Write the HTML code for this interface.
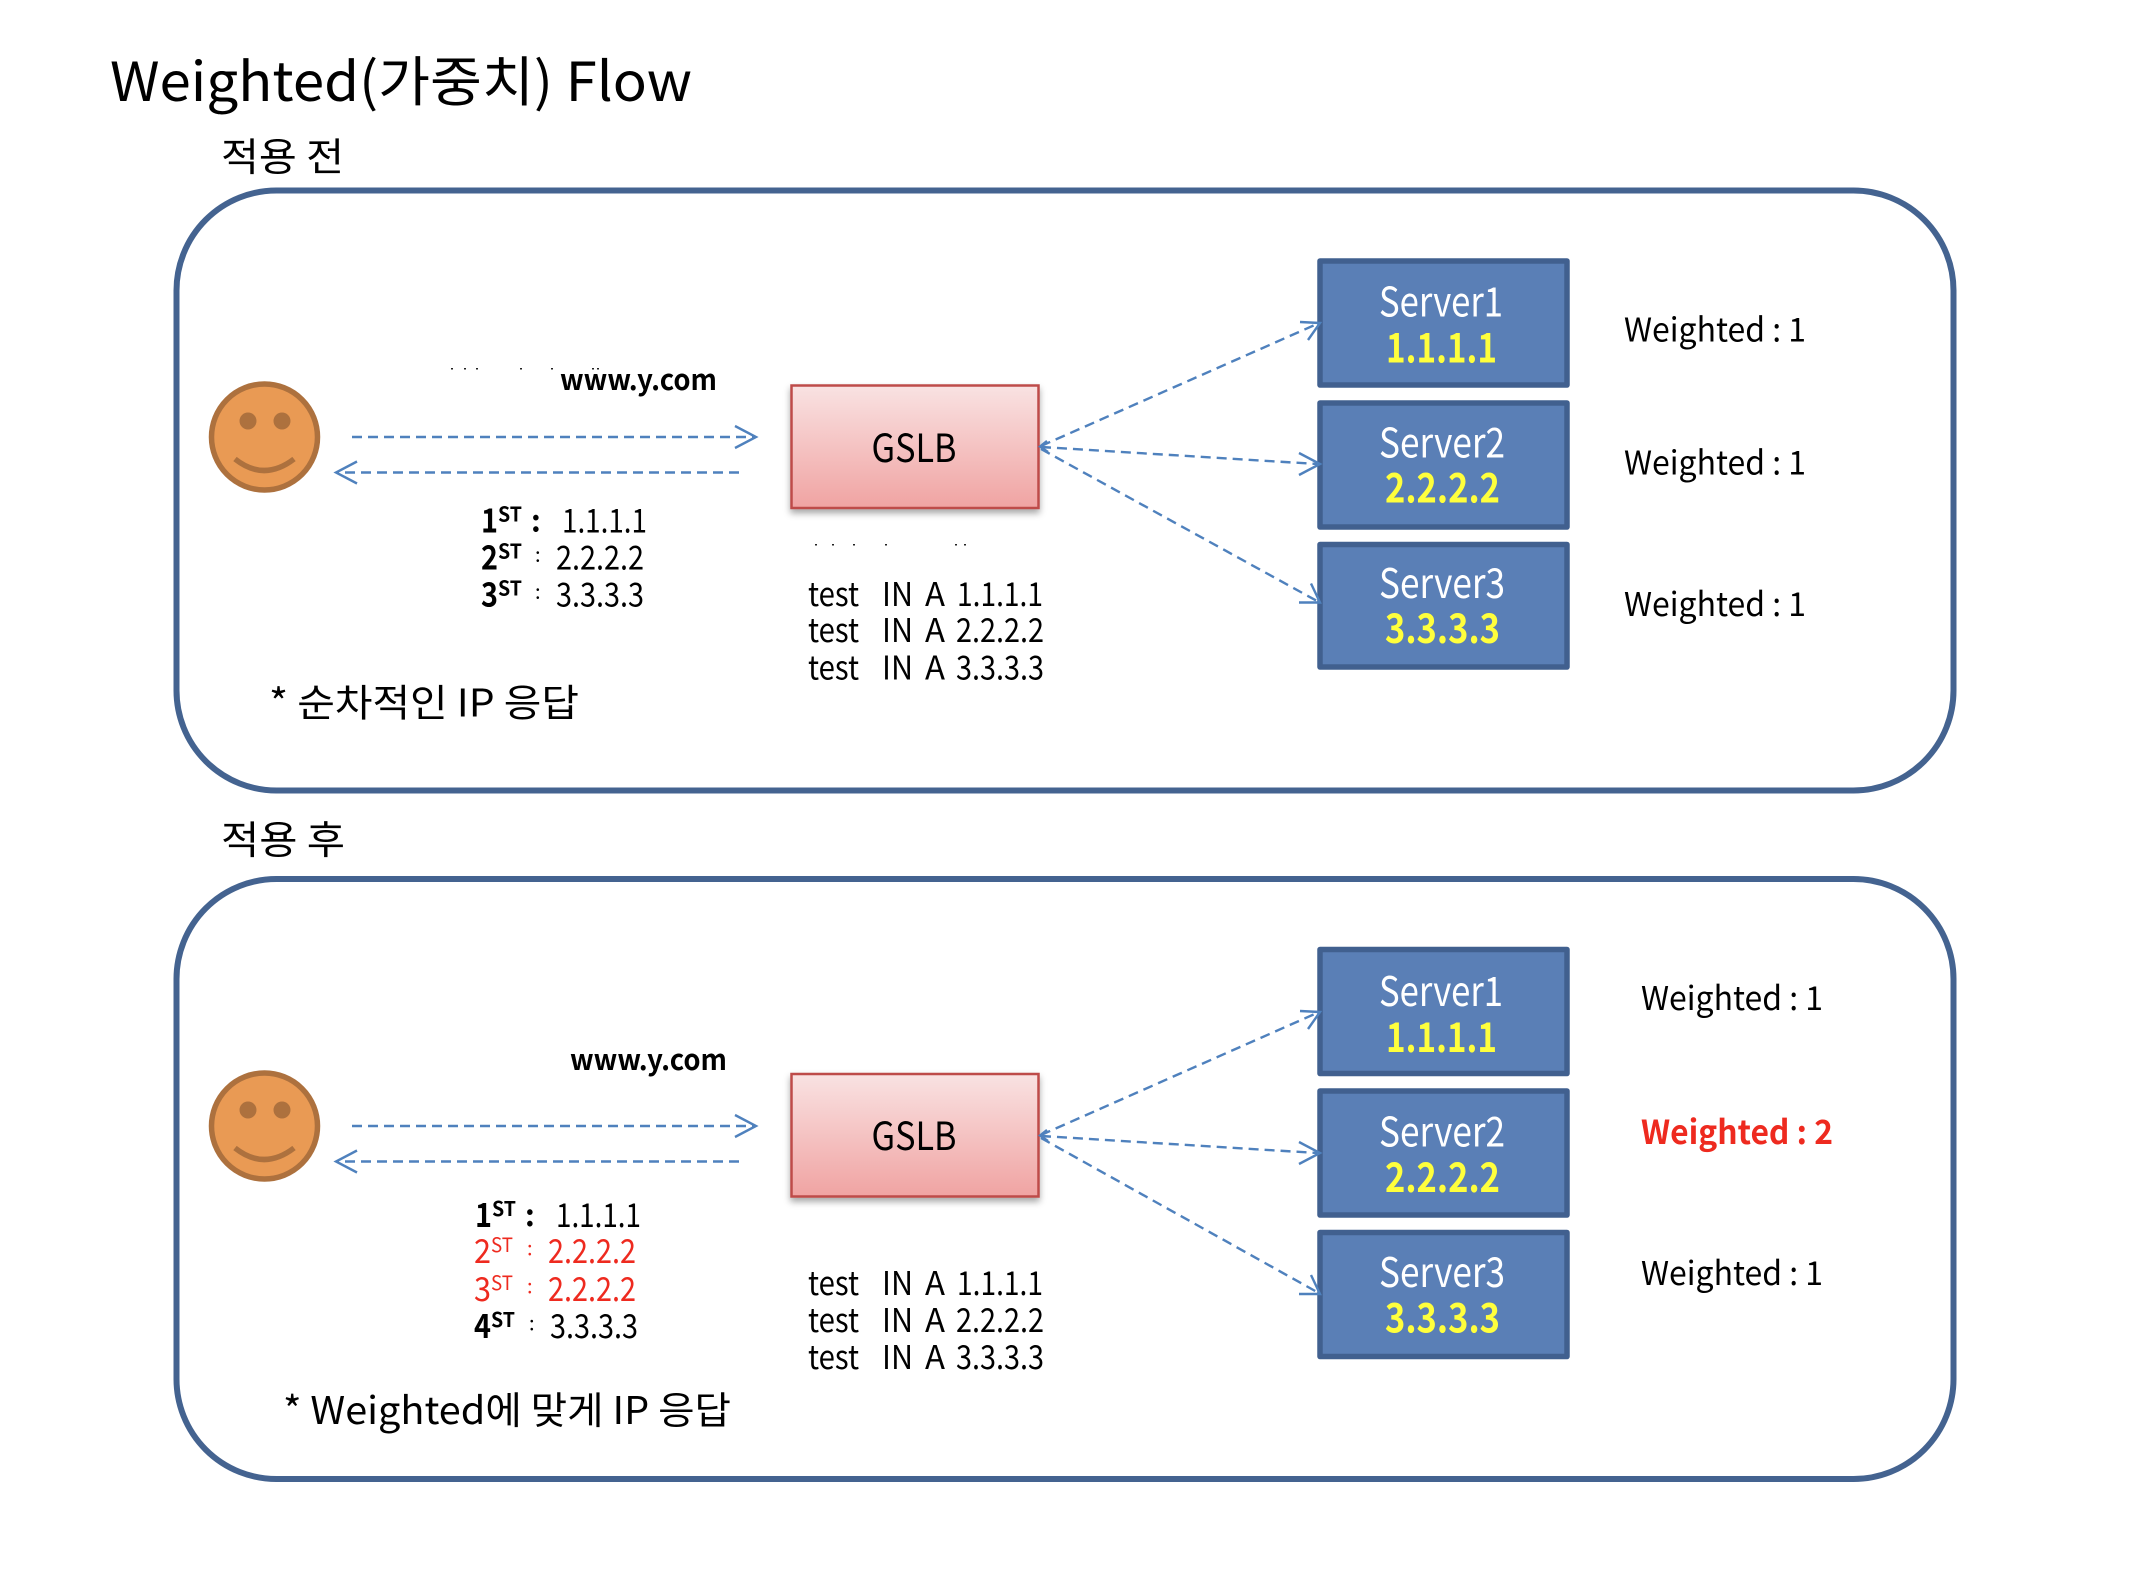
<!DOCTYPE html>
<html><head><meta charset="utf-8"><style>
html,body{margin:0;padding:0;background:#fff}
svg{display:block}
text{font-family:"Noto Sans CJK KR","Liberation Sans",sans-serif;fill:#000;white-space:pre}
.b{font-weight:700}
.r{fill:#EE2A1F}
.w{fill:#fff}
.y{fill:#FFFF3C;font-weight:700}
.pan{fill:#fff;stroke:#446390;stroke-width:6}
.srv{fill:#5A7FB6;stroke:#41608F;stroke-width:5.5;stroke-linejoin:round}
.gs{fill:url(#g);stroke:#BE4B48;stroke-width:2.5;filter:url(#sh)}
.d{stroke:#4F81BD;stroke-width:2.4;stroke-dasharray:10 6;fill:none}
.h{stroke:#4F81BD;stroke-width:2.4;fill:none}
.sp{fill:#222}
</style></head><body>
<svg width="2146" height="1586" viewBox="0 0 2146 1586" xmlns="http://www.w3.org/2000/svg">
<defs>
<linearGradient id="g" x1="0" y1="0" x2="0" y2="1"><stop offset="0" stop-color="#F9E2E2"/><stop offset="1" stop-color="#F0A3A2"/></linearGradient>
<filter id="sh" x="-10%" y="-10%" width="120%" height="125%"><feDropShadow dx="0" dy="4" stdDeviation="3.5" flood-color="#000" flood-opacity=".35"/></filter>
</defs>
<rect width="2146" height="1586" fill="#fff"/>

<text x="110" y="101" font-size="54" textLength="582" lengthAdjust="spacingAndGlyphs">Weighted(가중치) Flow</text>
<text x="221" y="171" font-size="39" textLength="123" lengthAdjust="spacingAndGlyphs">적용 전</text>
<text x="221" y="854" font-size="39" textLength="124" lengthAdjust="spacingAndGlyphs">적용 후</text>

<!-- PANEL 1 -->
<rect class="pan" x="176.500" y="190.500" width="1788" height="600" rx="100" ry="100" style="width:1787.500px;display:none"/>
<rect class="pan" x="176.500" y="190.500" width="1788" height="599.500" rx="100" ry="100" style="width:1788px;display:none"/>
<rect class="pan" x="176.500" y="190.500" width="1777" height="600" rx="100" ry="100"/>
<rect class="srv" x="1320" y="261" width="247" height="124"/>
<rect class="srv" x="1320" y="403" width="247" height="124"/>
<rect class="srv" x="1320" y="544.500" width="247" height="122.500"/>
<rect class="gs" x="791.500" y="385.500" width="247" height="122.500"/>

<ellipse cx="264.500" cy="437" rx="53" ry="53" fill="#E99A54" stroke="#AD713E" stroke-width="5.500"/>
<ellipse cx="248" cy="421" rx="8.500" ry="8.500" fill="#AD713E"/>
<ellipse cx="282" cy="421" rx="8.500" ry="8.500" fill="#AD713E"/>
<path d="M235 459 Q264 482 294 459" fill="none" stroke="#AD713E" stroke-width="5.500"/>

<path class="d" d="M352 437H755"/><path class="h" d="M735 426L756 437L735 448"/>
<path class="d" d="M739 472.500H338"/><path class="h" d="M357 461.500L336 472.500L357 483.500"/>

<path class="d" d="M1041 446L1317 324"/><path class="h" d="M1300 322L1320 323L1308 340"/>
<path class="d" d="M1041 447L1317 464"/><path class="h" d="M1299 453L1320 464L1299 475"/>
<path class="d" d="M1041 449L1317 601"/><path class="h" d="M1311 583.500L1320 602.500L1299 602.500"/>
<path class="h" d="M1047 441L1040 446.500L1048 452"/>

<g class="sp"><rect x="451" y="368" width="2" height="1.500"/><rect x="464" y="368" width="2" height="1.500"/><rect x="476" y="368" width="2" height="1.500"/><rect x="520" y="368" width="2" height="1.500"/><rect x="551" y="368" width="2" height="1.500"/><rect x="592" y="368" width="2" height="1.500"/><rect x="597" y="368" width="2" height="1.500"/>
<rect x="815" y="544" width="2" height="1.500"/><rect x="832" y="544" width="2" height="1.500"/><rect x="853" y="544" width="2" height="1.500"/><rect x="885" y="544" width="2" height="1.500"/><rect x="955" y="544" width="2" height="1.500"/><rect x="964" y="544" width="2" height="1.500"/></g>

<text class="b" x="560" y="390" font-size="29" textLength="157" lengthAdjust="spacingAndGlyphs">www.y.com</text>

<text class="b" x="481" y="532.500" font-size="33" textLength="17" lengthAdjust="spacingAndGlyphs">1</text><text class="b" x="498" y="521.500" font-size="20" textLength="24" lengthAdjust="spacingAndGlyphs">ST</text><text class="b" x="531" y="531.500" font-size="30">:</text><text x="562" y="532.500" font-size="33" textLength="85" lengthAdjust="spacingAndGlyphs">1.1.1.1</text>
<text class="b" x="481" y="569.500" font-size="33" textLength="17" lengthAdjust="spacingAndGlyphs">2</text><text class="b" x="498" y="558.500" font-size="20" textLength="24" lengthAdjust="spacingAndGlyphs">ST</text><text x="535" y="561.500" font-size="20">:</text><text x="556" y="569.500" font-size="33" textLength="88" lengthAdjust="spacingAndGlyphs">2.2.2.2</text>
<text class="b" x="481" y="606.500" font-size="33" textLength="17" lengthAdjust="spacingAndGlyphs">3</text><text class="b" x="498" y="595.500" font-size="20" textLength="24" lengthAdjust="spacingAndGlyphs">ST</text><text x="535" y="598.500" font-size="20">:</text><text x="556" y="606.500" font-size="33" textLength="88" lengthAdjust="spacingAndGlyphs">3.3.3.3</text>

<text x="871.500" y="462" font-size="39" textLength="85" lengthAdjust="spacingAndGlyphs">GSLB</text>

<text x="808" y="606" font-size="33" textLength="51" lengthAdjust="spacingAndGlyphs">test</text><text x="882" y="606" font-size="33" textLength="31" lengthAdjust="spacingAndGlyphs">IN</text><text x="925" y="606" font-size="33" textLength="20" lengthAdjust="spacingAndGlyphs">A</text><text x="957" y="606" font-size="33" textLength="86" lengthAdjust="spacingAndGlyphs">1.1.1.1</text>
<text x="808" y="642" font-size="33" textLength="51" lengthAdjust="spacingAndGlyphs">test</text><text x="882" y="642" font-size="33" textLength="31" lengthAdjust="spacingAndGlyphs">IN</text><text x="925" y="642" font-size="33" textLength="20" lengthAdjust="spacingAndGlyphs">A</text><text x="956" y="642" font-size="33" textLength="88" lengthAdjust="spacingAndGlyphs">2.2.2.2</text>
<text x="808" y="679.500" font-size="33" textLength="51" lengthAdjust="spacingAndGlyphs">test</text><text x="882" y="679.500" font-size="33" textLength="31" lengthAdjust="spacingAndGlyphs">IN</text><text x="925" y="679.500" font-size="33" textLength="20" lengthAdjust="spacingAndGlyphs">A</text><text x="956" y="679.500" font-size="33" textLength="88" lengthAdjust="spacingAndGlyphs">3.3.3.3</text>

<text x="269" y="716.500" font-size="38" textLength="310" lengthAdjust="spacingAndGlyphs">* 순차적인 IP 응답</text>

<text class="w" x="1379" y="316.500" font-size="41" textLength="124" lengthAdjust="spacingAndGlyphs">Server1</text>
<text class="y" x="1386" y="362.500" font-size="41" textLength="111" lengthAdjust="spacingAndGlyphs">1.1.1.1</text>
<text class="w" x="1379" y="457.500" font-size="41" textLength="126" lengthAdjust="spacingAndGlyphs">Server2</text>
<text class="y" x="1385" y="502.500" font-size="41" textLength="115" lengthAdjust="spacingAndGlyphs">2.2.2.2</text>
<text class="w" x="1379" y="598" font-size="41" textLength="126" lengthAdjust="spacingAndGlyphs">Server3</text>
<text class="y" x="1385" y="643" font-size="41" textLength="115" lengthAdjust="spacingAndGlyphs">3.3.3.3</text>

<text x="1624" y="341.500" font-size="33" textLength="182" lengthAdjust="spacingAndGlyphs">Weighted : 1</text>
<text x="1624" y="474.500" font-size="33" textLength="182" lengthAdjust="spacingAndGlyphs">Weighted : 1</text>
<text x="1624" y="616" font-size="33" textLength="182" lengthAdjust="spacingAndGlyphs">Weighted : 1</text>

<!-- PANEL 2 -->
<rect class="pan" x="176.500" y="879" width="1777" height="600" rx="100" ry="100"/>
<rect class="srv" x="1320" y="949.500" width="247" height="124"/>
<rect class="srv" x="1320" y="1091" width="247" height="124"/>
<rect class="srv" x="1320" y="1232.500" width="247" height="124"/>
<rect class="gs" x="791.500" y="1074" width="247" height="122.500"/>

<ellipse cx="264.500" cy="1126" rx="53" ry="53" fill="#E99A54" stroke="#AD713E" stroke-width="5.500"/>
<ellipse cx="248" cy="1110" rx="8.500" ry="8.500" fill="#AD713E"/>
<ellipse cx="282" cy="1110" rx="8.500" ry="8.500" fill="#AD713E"/>
<path d="M235 1148 Q264 1171 294 1148" fill="none" stroke="#AD713E" stroke-width="5.500"/>

<path class="d" d="M352 1126H755"/><path class="h" d="M735 1115L756 1126L735 1137"/>
<path class="d" d="M739 1161.500H338"/><path class="h" d="M357 1150.500L336 1161.500L357 1172.500"/>

<path class="d" d="M1041 1135L1317 1013"/><path class="h" d="M1300 1011L1320 1012L1308 1029"/>
<path class="d" d="M1041 1136L1317 1153"/><path class="h" d="M1299 1142L1320 1153L1299 1164"/>
<path class="d" d="M1041 1138L1317 1292"/><path class="h" d="M1311 1275L1320 1294L1299 1294"/>
<path class="h" d="M1047 1130L1040 1135.500L1048 1141"/>

<text class="b" x="570" y="1070" font-size="29" textLength="157" lengthAdjust="spacingAndGlyphs">www.y.com</text>

<text class="b" x="475" y="1227" font-size="33" textLength="17" lengthAdjust="spacingAndGlyphs">1</text><text class="b" x="492" y="1216" font-size="20" textLength="24" lengthAdjust="spacingAndGlyphs">ST</text><text class="b" x="525" y="1226" font-size="30">:</text><text x="556" y="1227" font-size="33" textLength="85" lengthAdjust="spacingAndGlyphs">1.1.1.1</text>
<text class="r" x="474" y="1263" font-size="33" textLength="17" lengthAdjust="spacingAndGlyphs">2</text><text class="r" x="491" y="1252" font-size="20" textLength="22" lengthAdjust="spacingAndGlyphs">ST</text><text class="r" x="527" y="1255" font-size="20">:</text><text class="r" x="548" y="1263" font-size="33" textLength="88" lengthAdjust="spacingAndGlyphs">2.2.2.2</text>
<text class="r" x="474" y="1301" font-size="33" textLength="17" lengthAdjust="spacingAndGlyphs">3</text><text class="r" x="491" y="1290" font-size="20" textLength="22" lengthAdjust="spacingAndGlyphs">ST</text><text class="r" x="527" y="1293" font-size="20">:</text><text class="r" x="548" y="1301" font-size="33" textLength="88" lengthAdjust="spacingAndGlyphs">2.2.2.2</text>
<text class="b" x="474" y="1338" font-size="33" textLength="17" lengthAdjust="spacingAndGlyphs">4</text><text class="b" x="491" y="1327" font-size="20" textLength="24" lengthAdjust="spacingAndGlyphs">ST</text><text x="529" y="1330" font-size="20">:</text><text x="550" y="1338" font-size="33" textLength="88" lengthAdjust="spacingAndGlyphs">3.3.3.3</text>

<text x="871.500" y="1150" font-size="39" textLength="85" lengthAdjust="spacingAndGlyphs">GSLB</text>

<text x="808" y="1295" font-size="33" textLength="51" lengthAdjust="spacingAndGlyphs">test</text><text x="882" y="1295" font-size="33" textLength="31" lengthAdjust="spacingAndGlyphs">IN</text><text x="925" y="1295" font-size="33" textLength="20" lengthAdjust="spacingAndGlyphs">A</text><text x="957" y="1295" font-size="33" textLength="86" lengthAdjust="spacingAndGlyphs">1.1.1.1</text>
<text x="808" y="1332" font-size="33" textLength="51" lengthAdjust="spacingAndGlyphs">test</text><text x="882" y="1332" font-size="33" textLength="31" lengthAdjust="spacingAndGlyphs">IN</text><text x="925" y="1332" font-size="33" textLength="20" lengthAdjust="spacingAndGlyphs">A</text><text x="956" y="1332" font-size="33" textLength="88" lengthAdjust="spacingAndGlyphs">2.2.2.2</text>
<text x="808" y="1369" font-size="33" textLength="51" lengthAdjust="spacingAndGlyphs">test</text><text x="882" y="1369" font-size="33" textLength="31" lengthAdjust="spacingAndGlyphs">IN</text><text x="925" y="1369" font-size="33" textLength="20" lengthAdjust="spacingAndGlyphs">A</text><text x="956" y="1369" font-size="33" textLength="88" lengthAdjust="spacingAndGlyphs">3.3.3.3</text>

<text x="283" y="1424" font-size="38" textLength="448" lengthAdjust="spacingAndGlyphs">* Weighted에 맞게 IP 응답</text>

<text class="w" x="1379" y="1006" font-size="41" textLength="124" lengthAdjust="spacingAndGlyphs">Server1</text>
<text class="y" x="1386" y="1052" font-size="41" textLength="111" lengthAdjust="spacingAndGlyphs">1.1.1.1</text>
<text class="w" x="1379" y="1146.500" font-size="41" textLength="126" lengthAdjust="spacingAndGlyphs">Server2</text>
<text class="y" x="1385" y="1192" font-size="41" textLength="115" lengthAdjust="spacingAndGlyphs">2.2.2.2</text>
<text class="w" x="1379" y="1287" font-size="41" textLength="126" lengthAdjust="spacingAndGlyphs">Server3</text>
<text class="y" x="1385" y="1332.500" font-size="41" textLength="115" lengthAdjust="spacingAndGlyphs">3.3.3.3</text>

<text x="1641" y="1010" font-size="33" textLength="182" lengthAdjust="spacingAndGlyphs">Weighted : 1</text>
<text class="b r" x="1641" y="1144" font-size="33" textLength="192" lengthAdjust="spacingAndGlyphs">Weighted : 2</text>
<text x="1641" y="1285" font-size="33" textLength="182" lengthAdjust="spacingAndGlyphs">Weighted : 1</text>
</svg>
</body></html>
